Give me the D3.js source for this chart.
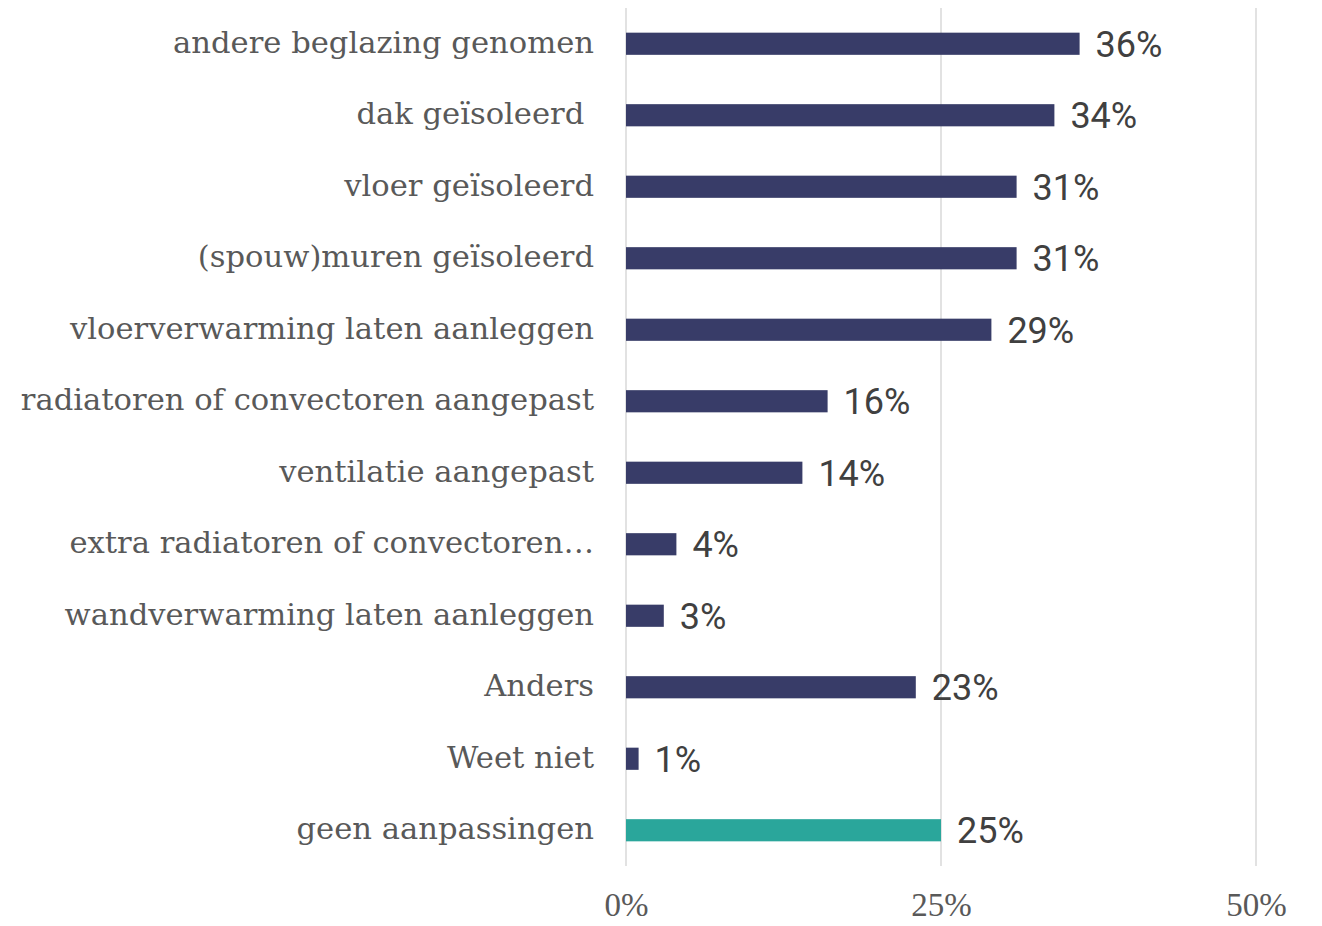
<!DOCTYPE html>
<html>
<head>
<meta charset="utf-8">
<script src="https://cdn.jsdelivr.net/npm/d3@7/dist/d3.min.js"></script>
<style>
  body { margin: 0; background: #fff; }
  svg { display: block; }
  .cat { font-family: "DejaVu Serif", serif; fill: #595959; white-space: pre; }
  .val { font-family: Roboto, sans-serif; fill: #404040; }
  .tick text { font-family: "Liberation Serif", serif; fill: #595959; }
</style>
</head>
<body>
<svg id="chart"></svg>
<script>
// categories, top to bottom
var categories = [
  "andere beglazing genomen",
  "dak geïsoleerd ",
  "vloer geïsoleerd",
  "(spouw)muren geïsoleerd",
  "vloerverwarming laten aanleggen",
  "radiatoren of convectoren aangepast",
  "ventilatie aangepast",
  "extra radiatoren of convectoren…",
  "wandverwarming laten aanleggen",
  "Anders",
  "Weet niet",
  "geen aanpassingen"
];
var values = [36, 34, 31, 31, 29, 16, 14, 4, 3, 23, 1, 25];
var tickValues = [0, 25, 50];

var width = 1322, height = 926;

var svg = d3.select("#chart")
    .attr("width", width)
    .attr("height", height);

var x = d3.scaleLinear().domain([0, 50]).range([626, 1256]);
var y = d3.scaleBand().domain(categories).range([8, 866]).paddingInner(0.69).paddingOuter(0.345);

// gridlines
svg.append("g").selectAll("line")
    .data(tickValues)
    .enter().append("line")
    .attr("x1", function(d) { return x(d); })
    .attr("x2", function(d) { return x(d); })
    .attr("y1", 8)
    .attr("y2", 866)
    .attr("stroke", "#d9d9d9")
    .attr("stroke-width", 1.5);

// bars
svg.append("g").selectAll("rect")
    .data(categories)
    .enter().append("rect")
    .attr("x", x(0))
    .attr("y", function(d) { return y(d); })
    .attr("width", function(d, i) { return x(values[i]) - x(0); })
    .attr("height", y.bandwidth())
    .attr("fill", function(d, i) { return i == categories.length - 1 ? "#2aa69b" : "#383c68"; });

// value labels
svg.append("g").selectAll("text")
    .data(categories)
    .enter().append("text")
    .attr("class", "val")
    .attr("x", function(d, i) { return x(values[i]) + 16; })
    .attr("y", function(d) { return y(d) + y.bandwidth() / 2; })
    .attr("dy", "0.36em")
    .style("font-size", "36px")
    .text(function(d, i) { return values[i] + "%"; });

// category labels
svg.append("g").selectAll("text")
    .data(categories)
    .enter().append("text")
    .attr("class", "cat")
    .attr("x", 594)
    .attr("y", function(d) { return y(d) + y.bandwidth() / 2; })
    .attr("dy", "0.3em")
    .attr("text-anchor", "end")
    .style("font-size", "30.6px")
    .text(function(d) { return d; });

// x axis
var xAxis = d3.axisBottom(x)
    .tickValues(tickValues)
    .tickSize(0)
    .tickPadding(0)
    .tickFormat(function(d) { return d + "%"; });

var ax = svg.append("g")
    .attr("transform", "translate(0,916)")
    .call(xAxis);
ax.select(".domain").remove();
ax.selectAll("text").style("font-size", "33px").attr("dy", null);
</script>
</body>
</html>
